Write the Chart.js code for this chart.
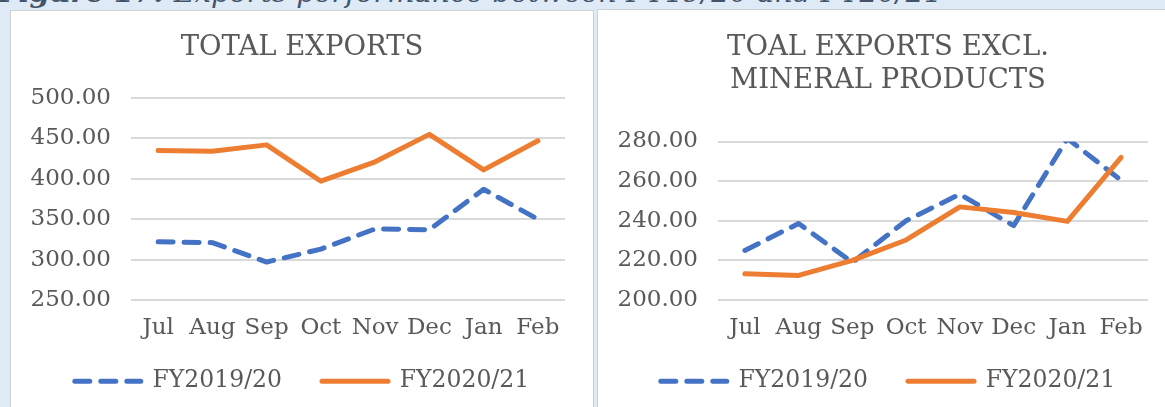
<!DOCTYPE html>
<html>
<head>
<meta charset="utf-8">
<script src="https://cdn.jsdelivr.net/npm/chart.js@4/dist/chart.umd.min.js"></script>
<style>
  html, body { margin: 0; padding: 0; }
  body { width: 1165px; height: 407px; overflow: hidden; background: #DEEAF6; position: relative; }
  #hdr { position: absolute; left: -2px; top: -25px; white-space: nowrap; font-family: 'DejaVu Serif', serif; font-style: italic; font-size: 28.8px; color: #44546A; line-height: 34px; }
  #hdr b { font-weight: bold; }
  .panel { position: absolute; background: #ffffff; border: 1px solid #D0D0D0; overflow: hidden; }
  canvas { display: block; }
</style>
</head>
<body>
<div id="hdr"><b>Figure 17:</b> Exports performance between FY19/20 and FY20/21</div>
<div class="panel" style="left:10px; top:10px; width:582px; height:420px;"><canvas id="c1" width="582" height="396"></canvas></div>
<div class="panel" style="left:597px; top:9px; width:600px; height:420px;"><canvas id="c2" width="580" height="397"></canvas></div>
<script>
// ---- data ----
const months = ['Jul', 'Aug', 'Sep', 'Oct', 'Nov', 'Dec', 'Jan', 'Feb'];
const seriesNames = ['FY2019/20', 'FY2020/21'];
const totalFY1920 = [322, 321, 297, 313, 338, 337, 387, 350];
const totalFY2021 = [435, 434, 442, 397, 421, 455, 411, 447];
const exclFY1920 = [225, 238.6, 219, 240, 253.4, 237.5, 281.5, 260.4];
const exclFY2021 = [213.2, 212.4, 220, 230.3, 247, 244.2, 239.7, 272];
const totalTicks = [250, 300, 350, 400, 450, 500];
const exclTicks = [200, 220, 240, 260, 280];
const titleTotal = 'TOTAL EXPORTS';
const titleExcl = ['TOAL EXPORTS EXCL.', 'MINERAL PRODUCTS'];

const BLUE = '#4472C4';
const ORANGE = '#ED7D31';
const TEXT = '#595959';
const GRID = '#D9D9D9';
const DASH = [15, 11];

Chart.defaults.font.family = "'DejaVu Serif', serif";
Chart.defaults.color = TEXT;

function legendLabels(chart) {
  const items = Chart.defaults.plugins.legend.labels.generateLabels(chart);
  items.forEach((it) => {
    const ds = chart.data.datasets[it.datasetIndex];
    it.lineDash = ds.borderDash || [];
    it.lineWidth = ds.borderWidth;
    it.lineCap = 'round';
    it.strokeStyle = ds.borderColor;
    it.fillStyle = ds.borderColor;
  });
  return items.sort((a, b) => a.datasetIndex - b.datasetIndex);
}

function makeChart(id, titleText, s1, s2, ticks, g) {
  const ctx = document.getElementById(id);
  return new Chart(ctx, {
    type: 'line',
    data: {
      labels: months,
      datasets: [
        { label: seriesNames[0], data: s1, borderColor: BLUE, backgroundColor: BLUE,
          borderWidth: 5, borderDash: DASH, borderCapStyle: 'round', borderJoinStyle: 'round',
          pointRadius: 0, tension: 0, order: 1 },
        { label: seriesNames[1], data: s2, borderColor: ORANGE, backgroundColor: ORANGE,
          borderWidth: 5, borderCapStyle: 'round', borderJoinStyle: 'round',
          pointRadius: 0, tension: 0, order: 0 }
      ]
    },
    options: {
      responsive: false,
      animation: false,
      devicePixelRatio: 1,
      layout: { padding: { left: 0, right: 0, top: 0, bottom: 4 } },
      plugins: {
        tooltip: { enabled: false },
        title: {
          display: true, text: titleText, color: TEXT,
          font: { size: 27.5, weight: 'normal', lineHeight: 1.2 },
          padding: { top: g.titleTop, bottom: g.titleBottom }
        },
        legend: {
          position: 'bottom',
          labels: {
            usePointStyle: true, pointStyle: 'line', pointStyleWidth: 66,
            padding: 40, color: TEXT, font: { size: 23.5 },
            generateLabels: legendLabels
          }
        }
      },
      scales: {
        x: {
          offset: true,
          grid: { display: false, drawTicks: false },
          border: { display: false },
          ticks: { maxRotation: 0, minRotation: 0, autoSkip: false, mirror: true, padding: -42,
                   color: TEXT, font: { size: 23 } },
          afterFit: (s) => { s.height = g.xHeight; }
        },
        y: {
          min: ticks[0], max: ticks[ticks.length - 1],
          grid: { color: GRID, lineWidth: 2, drawTicks: false },
          border: { display: false },
          ticks: { stepSize: ticks[1] - ticks[0], padding: 20, color: TEXT, font: { size: 23 },
                   callback: (v) => Number(v).toFixed(2) },
          afterFit: (s) => { s.width = 120; }
        },
        yPad: {
          position: 'right',
          display: true,
          grid: { display: false, drawTicks: false },
          border: { display: false },
          ticks: { display: false },
          afterFit: (s) => { s.width = g.padRight; }
        }
      }
    }
  });
}

makeChart('c1', titleTotal, totalFY1920, totalFY2021, totalTicks, { padRight: 28, titleTop: 20, titleBottom: 34, xHeight: 29.5 });
makeChart('c2', titleExcl, exclFY1920, exclFY2021, exclTicks, { padRight: 30, titleTop: 21, titleBottom: 44.5, xHeight: 29.5 });
</script>
</body>
</html>
